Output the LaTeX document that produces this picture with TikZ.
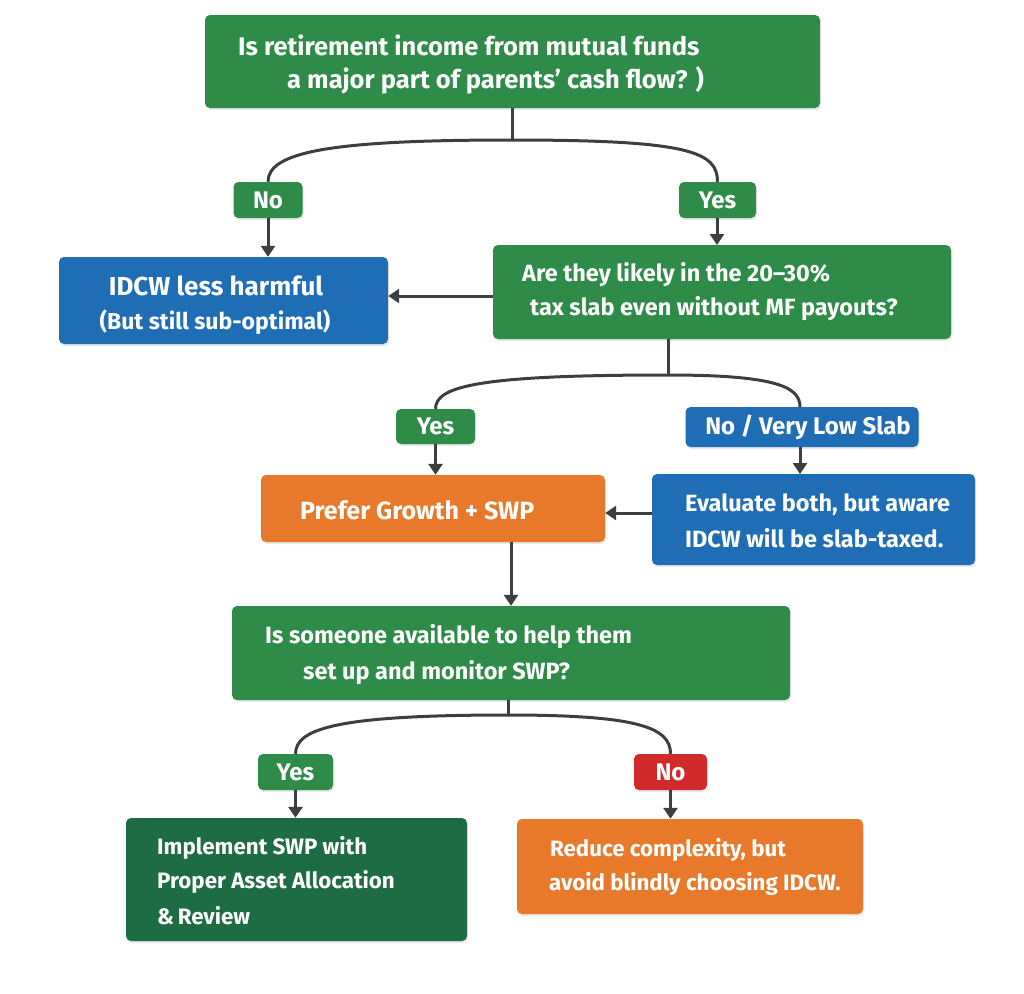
\documentclass[tikz,border=0pt]{standalone}
\usepackage{fontspec}
\setmainfont{Fira Sans}
\usetikzlibrary{arrows.meta,shadows}
\definecolor{cgreen}{HTML}{2E8B48}
\definecolor{cblue}{HTML}{1F6DB5}
\definecolor{corange}{HTML}{E8792B}
\definecolor{cdark}{HTML}{1E6C43}
\definecolor{cred}{HTML}{D02A2A}
\definecolor{cline}{HTML}{3C3F42}
\tikzset{
  box/.style={rounded corners=5pt, draw=none, inner sep=0pt,
    drop shadow={opacity=0.18, shadow xshift=1pt, shadow yshift=-2pt}},
  txt/.style={text=white, inner sep=0pt, anchor=west, font=\bfseries\fontsize{23.5}{28}\selectfont},
  smtxt/.style={txt, font=\bfseries\fontsize{22.3}{27}\selectfont},
  bigtxt/.style={txt, font=\bfseries\fontsize{25.5}{30}\selectfont},
  lbl/.style={text=white, inner sep=0pt, font=\bfseries\fontsize{24}{28}\selectfont},
  conn/.style={draw=cline, line width=3pt},
  arr/.style={conn, -{Triangle[width=14pt,length=11pt]}},
}
\begin{document}
\begin{tikzpicture}[x=1pt,y=-1pt]
\useasboundingbox (0,0) rectangle (1024,993);
\fill[white] (0,0) rectangle (1024,993);
% boxes
\node[box, fill=cgreen, minimum width=615pt, minimum height=93pt] (q1) at (512.5,61.5) {};
\node[box, fill=cgreen, minimum width=69pt, minimum height=36pt] (no1) at (268,200) {};
\node[box, fill=cgreen, minimum width=77pt, minimum height=36pt] (yes1) at (717.5,200) {};
\node[box, fill=cblue, minimum width=329pt, minimum height=87pt] (r1) at (223.5,300.5) {};
\node[box, fill=cgreen, minimum width=458pt, minimum height=94pt] (q2) at (722,292) {};
\node[box, fill=cgreen, minimum width=79pt, minimum height=35pt] (yes2) at (435.5,426.5) {};
\node[box, fill=cblue, minimum width=233pt, minimum height=40pt] (no2) at (802,427) {};
\node[box, fill=corange, minimum width=344pt, minimum height=67pt] (r2) at (433,508.5) {};
\node[box, fill=cblue, minimum width=323pt, minimum height=91pt] (r3) at (813.5,519.5) {};
\node[box, fill=cgreen, minimum width=558pt, minimum height=94pt] (q3) at (511,653) {};
\node[box, fill=cgreen, minimum width=75pt, minimum height=36pt] (yes3) at (295.5,772) {};
\node[box, fill=cred, minimum width=73pt, minimum height=36pt] (no3) at (670.5,772) {};
\node[box, fill=cdark, minimum width=341pt, minimum height=123pt] (r4) at (296.5,879.5) {};
\node[box, fill=corange, minimum width=346pt, minimum height=95pt] (r5) at (690,866.5) {};
% texts
\node[bigtxt] (t1a) at (238,45) {Is retirement income from mutual funds};
\node[bigtxt] (t1b) at (287,80) {a major part of parents’ cash flow? )};
\node[lbl] (tno1) at (no1) {No};
\node[lbl] (tyes1) at (yes1) {Yes};
\node[lbl, font=\bfseries\fontsize{26}{30}\selectfont] (t2a) at (216,286) {IDCW less harmful};
\node[lbl, font=\bfseries\fontsize{23}{27}\selectfont] (t2b) at (215,322) {(But still sub-optimal)};
\node[txt] (t3a) at (522,275) {Are they likely in the 20–30\%};
\node[txt] (t3b) at (530,309) {tax slab even without MF payouts?};
\node[lbl] (tyes2) at (yes2) {Yes};
\node[lbl] (tno2) at (808,427) {No / Very Low Slab};
\node[txt, font=\bfseries\fontsize{25}{30}\selectfont] (t4) at (300,510) {Prefer Growth + SWP};
\node[txt] (t5a) at (685,505) {Evaluate both, but aware};
\node[txt] (t5b) at (685,538) {IDCW will be slab-taxed.};
\node[txt] (t6a) at (265,637) {Is someone available to help them};
\node[txt] (t6b) at (303,673) {set up and monitor SWP?};
\node[lbl] (tyes3) at (yes3) {Yes};
\node[lbl] (tno3) at (no3) {No};
\node[smtxt] (t7a) at (157,848) {Implement SWP with};
\node[smtxt] (t7b) at (157,882) {Proper Asset Allocation};
\node[smtxt] (t7c) at (157,916) {\&\,Review};
\node[smtxt] (t8a) at (550,850) {Reduce complexity, but};
\node[smtxt] (t8b) at (549,884) {avoid blindly choosing IDCW.};
% connectors
\coordinate (b1) at (512,140);
\draw[conn] (q1.south -| b1) -- (b1);
\draw[conn] (b1) .. controls (330,140) and (268,152) .. (no1.north);
\draw[conn] (b1) .. controls (690,140) and (717.5,152) .. (yes1.north);
\draw[arr] (no1.south) -- (no1.south |- r1.north);
\draw[arr] (yes1.south -| 717,0) -- (717,245);
\coordinate (h1) at (0,296);
\draw[arr] (q2.west |- h1) -- (r1.east |- h1);
\coordinate (b2) at (668,375);
\draw[conn] (q2.south -| b2) -- (b2);
\draw[conn] (b2) .. controls (480,375) and (435.5,386) .. (yes2.north);
\draw[conn] (b2) .. controls (780,375) and (800,388) .. (800,407);
\draw[arr] (yes2.south) -- (yes2.south |- r2.north);
\draw[arr] (800,447) -- (800,474);
\coordinate (h2) at (0,513);
\draw[arr] (r3.west |- h2) -- (r2.east |- h2);
\draw[arr] (r2.south -| q3.north) -- (q3.north);
\coordinate (b3) at (508,715);
\draw[conn] (q3.south -| b3) -- (b3);
\draw[conn] (b3) .. controls (340,715) and (295.5,728) .. (yes3.north);
\draw[conn] (b3) .. controls (640,715) and (670.5,728) .. (no3.north);
\draw[arr] (yes3.south) -- (yes3.south |- r4.north);
\draw[arr] (no3.south) -- (no3.south |- r5.north);
\end{tikzpicture}
\end{document}
